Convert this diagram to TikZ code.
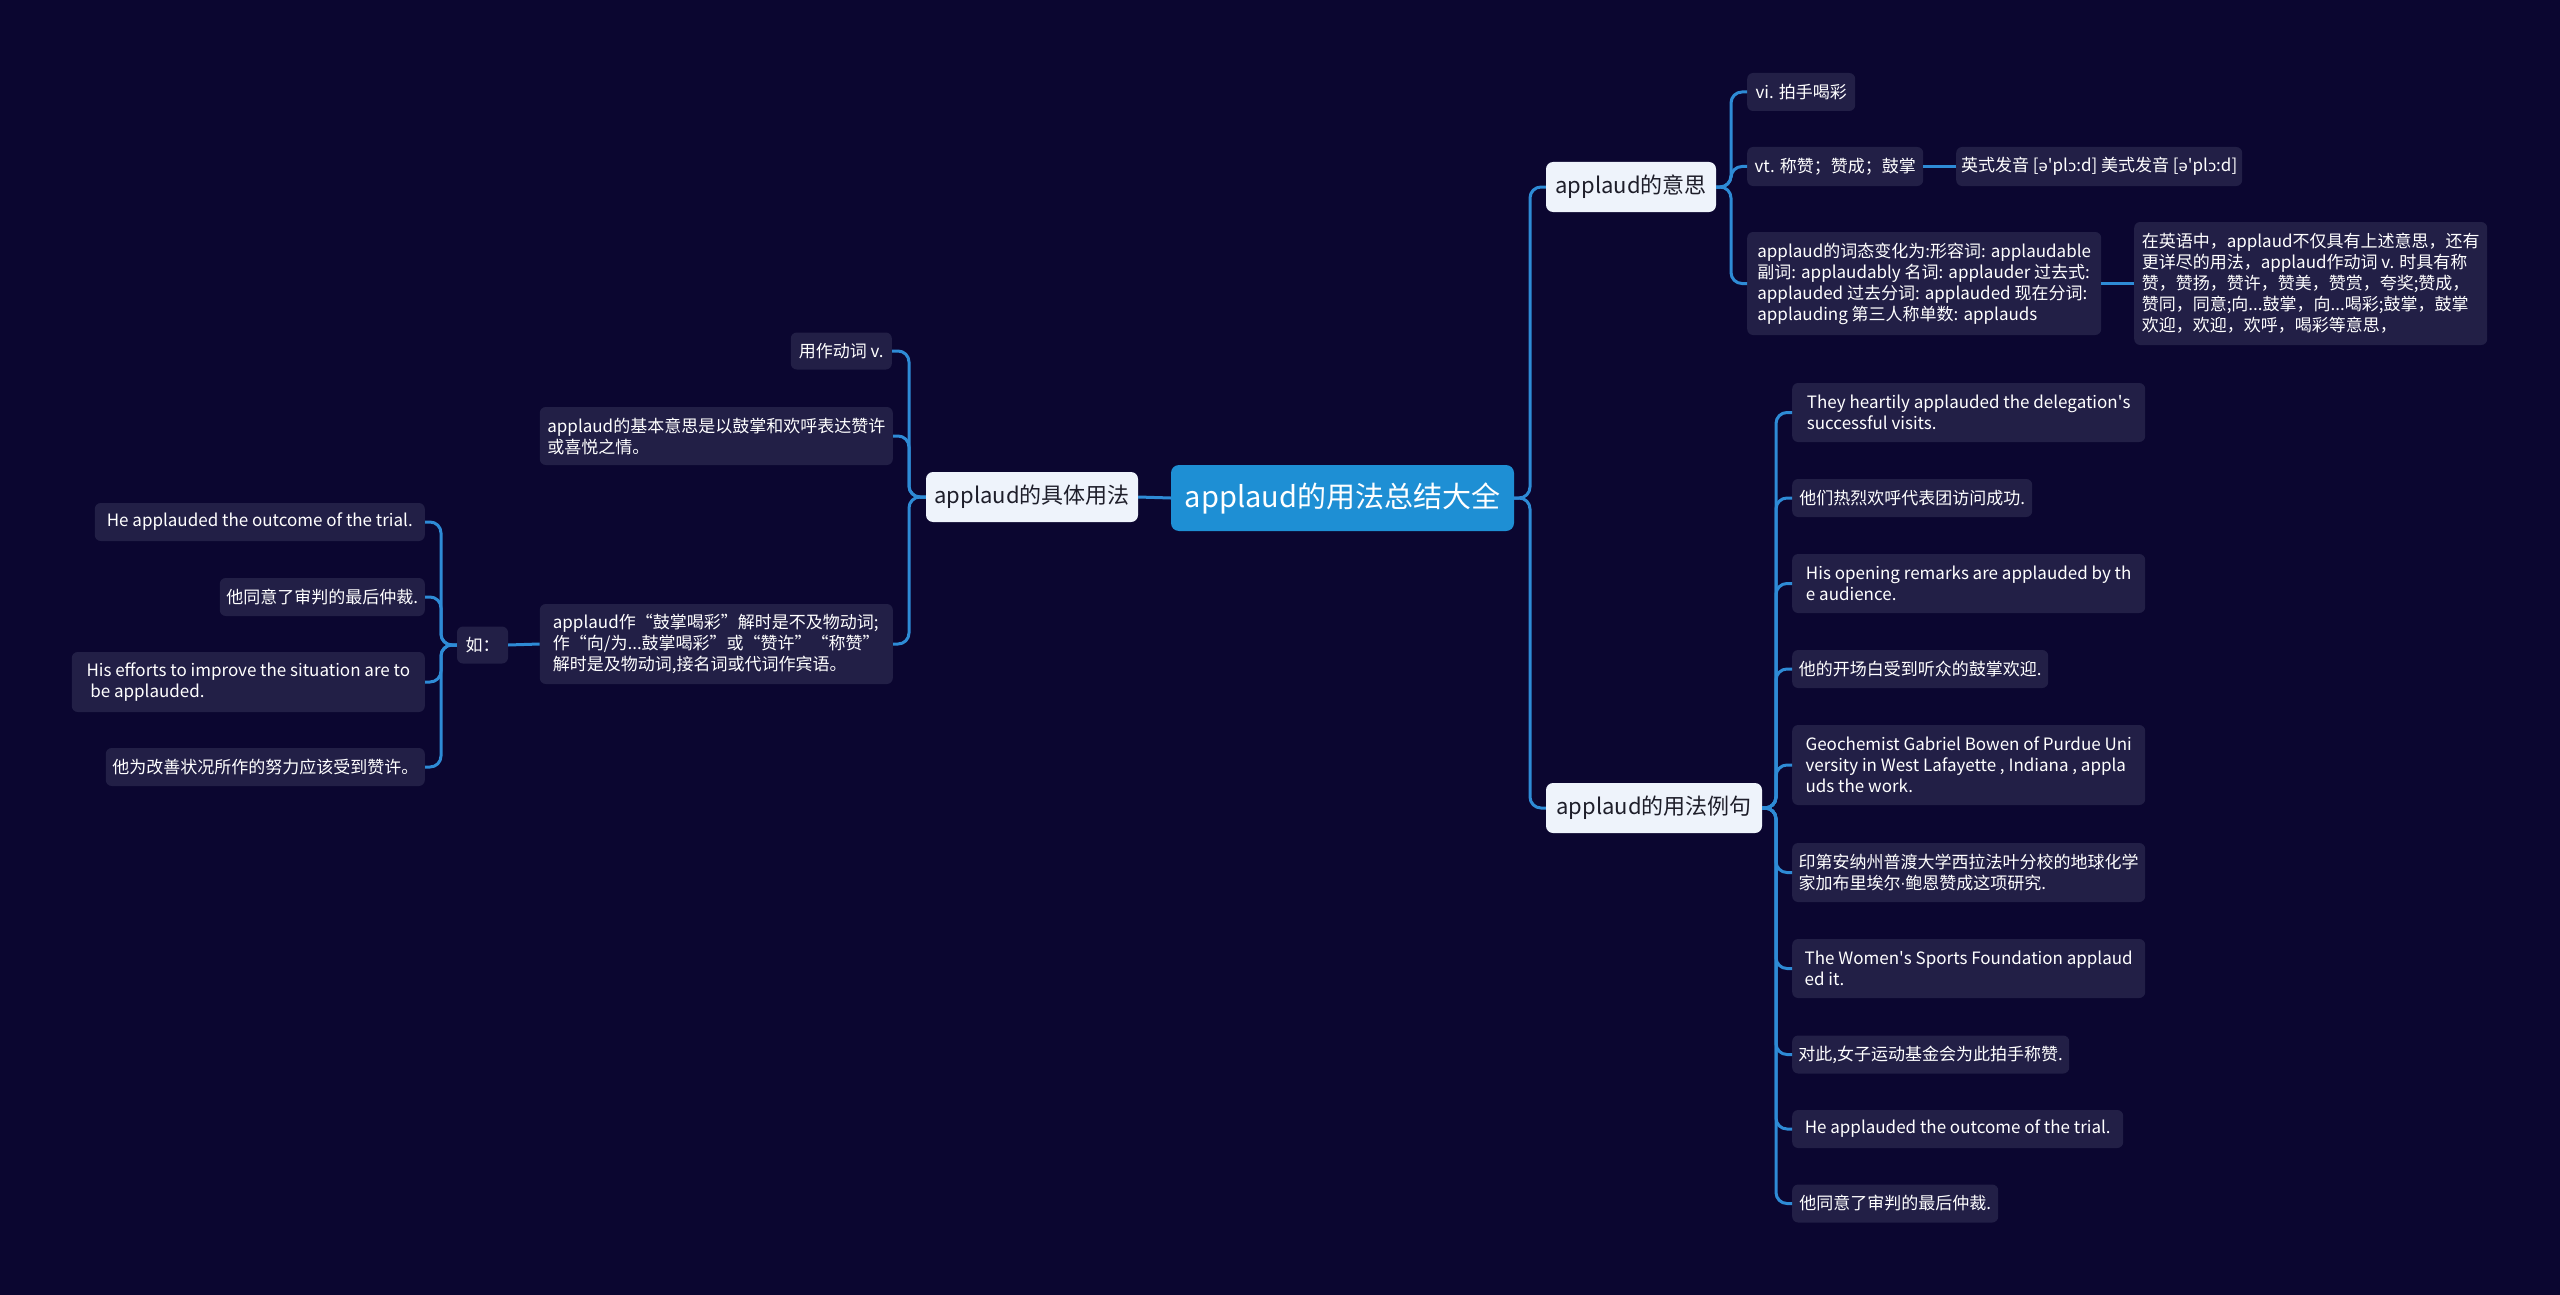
\documentclass[tikz,border=0pt]{standalone}
\usepackage{fontspec}
\setmainfont{Noto Sans CJK SC}
\newfontfamily\ipafont{DejaVu Sans}
\definecolor{bgc}{HTML}{0B0630}
\definecolor{leafc}{HTML}{221F46}
\definecolor{rootc}{HTML}{1E8FD4}
\definecolor{lonec}{HTML}{EEF3FB}
\definecolor{linec}{HTML}{2E8BD6}
\definecolor{darktext}{HTML}{1E1E2A}
\tikzset{
  leaf/.style={fill=leafc, rounded corners=6pt, text=white, inner sep=0pt, align=left,
    font=\fontsize{17}{21}\selectfont},
  levone/.style={fill=lonec, rounded corners=7pt, text=darktext, inner sep=0pt,
    font=\fontsize{22}{26}\selectfont},
  rootn/.style={fill=rootc, rounded corners=8pt, text=white, inner sep=0pt,
    font=\fontsize{29}{34}\selectfont},
  conn/.style={draw=linec, line width=3pt, rounded corners=11pt},
}
\begin{document}
\begin{tikzpicture}[x=1pt,y=-1pt]
\fill[bgc] (0,0) rectangle (2560,1295);
\useasboundingbox (0,0) rectangle (2560,1295);
% trunk coordinates
\coordinate (tR) at (1530,0);
\coordinate (tM) at (1731,0);
\coordinate (tE) at (1776,0);
\coordinate (tL) at (909,0);
\coordinate (tRu) at (441,0);

% root and level one
\node[rootn, minimum width=343, minimum height=66] (root) at (1342.5,498) {applaud的用法总结大全};
\node[levone, minimum width=170, minimum height=50] (mean) at (1631,187) {applaud的意思};
\node[levone, minimum width=216, minimum height=50] (exa) at (1654,808) {applaud的用法例句};
\node[levone, minimum width=212, minimum height=50] (usage) at (1032,497) {applaud的具体用法};

% meaning children
\node[leaf, anchor=west, minimum width=108, minimum height=38] (vi) at (1747,92) {vi. 拍手喝彩};
\node[leaf, anchor=west, minimum width=176, minimum height=39] (vt) at (1747,166.5) {vt. 称赞；赞成；鼓掌};
\node[leaf, anchor=west, minimum width=286, minimum height=39] (pron) at (1956,166.5) {英式发音 [{\ipafont\fontsize{15}{21}\selectfont ə}\textquotesingle pl{\ipafont\fontsize{15}{21}\selectfont ɔ}:d] 美式发音 [{\ipafont\fontsize{15}{21}\selectfont ə}\textquotesingle pl{\ipafont\fontsize{15}{21}\selectfont ɔ}:d]};
\node[leaf, anchor=west, minimum width=354, minimum height=103] (forms) at (1747,283.5) {applaud的词态变化为:形容词: applaudable\\副词: applaudably 名词: applauder 过去式:\\applauded 过去分词: applauded 现在分词:\\applauding 第三人称单数: applauds};
\node[leaf, anchor=west, minimum width=353, minimum height=123] (detail) at (2134,283.5) {在英语中，applaud不仅具有上述意思，还有\\更详尽的用法，applaud作动词 v. 时具有称\\赞，赞扬，赞许，赞美，赞赏，夸奖;赞成，\\赞同，同意;向...鼓掌，向...喝彩;鼓掌，鼓掌\\欢迎，欢迎，欢呼，喝彩等意思，};

% example children
\node[leaf, anchor=west, minimum width=353, minimum height=59] (e1) at (1792,412.5) {They heartily applauded the delegation\textquotesingle s\\successful visits.};
\node[leaf, anchor=west, minimum width=240, minimum height=38] (e2) at (1792,498) {他们热烈欢呼代表团访问成功.};
\node[leaf, anchor=west, minimum width=353, minimum height=59] (e3) at (1792,583.5) {His opening remarks are applauded by th\\e audience.};
\node[leaf, anchor=west, minimum width=256, minimum height=38] (e4) at (1792,669) {他的开场白受到听众的鼓掌欢迎.};
\node[leaf, anchor=west, minimum width=353, minimum height=80] (e5) at (1792,765) {Geochemist Gabriel Bowen of Purdue Uni\\versity in West Lafayette , Indiana , appla\\uds the work.};
\node[leaf, anchor=west, minimum width=353, minimum height=59] (e6) at (1792,872.5) {印第安纳州普渡大学西拉法叶分校的地球化学\\家加布里埃尔{\ipafont\fontsize{15}{21}\selectfont ·}鲍恩赞成这项研究.};
\node[leaf, anchor=west, minimum width=353, minimum height=59] (e7) at (1792,968.5) {The Women\textquotesingle s Sports Foundation applaud\\ed it.};
\node[leaf, anchor=west, minimum width=277, minimum height=38] (e8) at (1792,1054.5) {对此,女子运动基金会为此拍手称赞.};
\node[leaf, anchor=west, minimum width=331, minimum height=38] (e9) at (1792,1129) {He applauded the outcome of the trial.};
\node[leaf, anchor=west, minimum width=206, minimum height=38] (e10) at (1792,1203.5) {他同意了审判的最后仲裁.};

% usage children
\node[leaf, anchor=east, minimum width=101, minimum height=37] (verb) at (892,351) {用作动词 v.};
\node[leaf, anchor=east, minimum width=353, minimum height=58] (basic) at (893,436) {applaud的基本意思是以鼓掌和欢呼表达赞许\\或喜悦之情。};
\node[leaf, anchor=east, minimum width=353, minimum height=80] (zuo) at (893,644) {applaud作“鼓掌喝彩”解时是不及物动词;\\作“向/为...鼓掌喝彩”或“赞许”“称赞”\\解时是及物动词,接名词或代词作宾语。};
\node[leaf, minimum width=51, minimum height=37] (ru) at (482.5,645) {如：};
\node[leaf, anchor=east, minimum width=330, minimum height=38] (l1) at (425,522) {He applauded the outcome of the trial.};
\node[leaf, anchor=east, minimum width=205, minimum height=38] (l2) at (425,597) {他同意了审判的最后仲裁.};
\node[leaf, anchor=east, minimum width=353, minimum height=60] (l3) at (425,682) {His efforts to improve the situation are to\\\ be applauded.};
\node[leaf, anchor=east, minimum width=319, minimum height=38] (l4) at (425,767) {他为改善状况所作的努力应该受到赞许。};

% connectors: root to right level one
\foreach \c in {mean,exa}
  \draw[conn] (root.east) -- (root.east -| tR) -- (\c.west -| tR) -- (\c.west);
% root to usage
\draw[conn] (root.west) -- (usage.east);
% meaning children
\foreach \c in {vi,vt,forms}
  \draw[conn] (mean.east) -- (mean.east -| tM) -- (\c.west -| tM) -- (\c.west);
\draw[conn] (vt.east) -- (pron.west);
\draw[conn] (forms.east) -- (detail.west);
% example children
\foreach \c in {e1,e2,e3,e4,e5,e6,e7,e8,e9,e10}
  \draw[conn] (exa.east) -- (exa.east -| tE) -- (\c.west -| tE) -- (\c.west);
% usage children
\foreach \c in {verb,basic,zuo}
  \draw[conn] (usage.west) -- (usage.west -| tL) -- (\c.east -| tL) -- (\c.east);
\draw[conn] (zuo.west) -- (ru.east);
\foreach \c in {l1,l2,l3,l4}
  \draw[conn] (ru.west) -- (ru.west -| tRu) -- (\c.east -| tRu) -- (\c.east);
\end{tikzpicture}
\end{document}
